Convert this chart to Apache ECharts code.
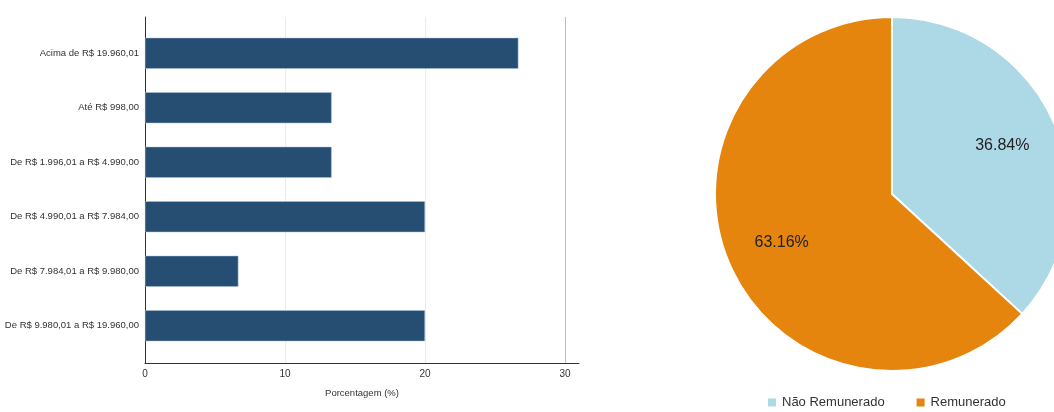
<!DOCTYPE html>
<html>
<head>
<meta charset="utf-8">
<script src="https://cdn.jsdelivr.net/npm/echarts@6/dist/echarts.min.js"></script>
<style>html,body{margin:0;padding:0;background:#fff}#c{width:1054px;height:412px}</style>
</head>
<body>
<div id="c"></div>
<script>
const categories = ['Acima de R$ 19.960,01', 'Até R$ 998,00', 'De R$ 1.996,01 a R$ 4.990,00', 'De R$ 4.990,01 a R$ 7.984,00', 'De R$ 7.984,01 a R$ 9.980,00', 'De R$ 9.980,01 a R$ 19.960,00'];
const percentages = [26.67, 13.33, 13.33, 20.00, 6.67, 20.00];
const xTicks = [0, 10, 20, 30];
const pieNames = ['Não Remunerado', 'Remunerado'];
const pieValues = [36.84, 63.16];
const xAxisName = 'Porcentagem (%)';

const chart = echarts.init(document.getElementById('c'), null, {renderer: 'canvas'});
const narrow = "'Liberation Sans Narrow', 'Arial Narrow', 'Liberation Sans', Arial, sans-serif";
const sans = "'Liberation Sans', Arial, sans-serif";
const pieData = pieNames.map((n, i) => ({name: n, value: pieValues[i]}));

chart.setOption({
  animation: false,
  backgroundColor: '#fff',
  grid: [
    {left: 145, top: 17, width: 434, height: 346, containLabel: false, outerBoundsMode: 'none'},
    {left: 145, top: 26, width: 434, height: 327, containLabel: false, outerBoundsMode: 'none'}
  ],
  xAxis: [
    {
      gridIndex: 0, type: 'value', min: 0, max: 31, interval: 10,
      name: xAxisName, nameLocation: 'middle', nameGap: 25,
      nameTextStyle: {fontFamily: narrow, fontSize: 9.5, color: '#333'},
      axisLine: {show: true, lineStyle: {color: '#333', width: 1}},
      axisTick: {show: false},
      axisLabel: {fontFamily: narrow, fontSize: 10, color: '#333', margin: 6,
        formatter: v => xTicks.indexOf(v) >= 0 ? String(v) : ''},
      splitLine: {show: true, lineStyle: {color: ['#ffffff', '#ececec', '#ececec', '#bdbdbd', 'rgba(0,0,0,0)'], width: 1}}
    },
    {gridIndex: 1, type: 'value', min: 0, max: 31, show: false}
  ],
  yAxis: [
    {
      gridIndex: 0, type: 'value', min: 0, max: 1,
      axisLine: {show: true, lineStyle: {color: '#333', width: 1}},
      axisTick: {show: false}, axisLabel: {show: false}, splitLine: {show: false}
    },
    {
      gridIndex: 1, type: 'category', data: categories, inverse: true,
      axisLine: {show: false}, axisTick: {show: false},
      axisLabel: {fontFamily: narrow, fontSize: 9.5, color: '#333', margin: 6}
    }
  ],
  legend: {
    data: pieNames, left: 761, top: 391, itemWidth: 10, itemHeight: 10, itemGap: 30,
    icon: 'rect',
    textStyle: {fontFamily: sans, fontSize: 13, color: '#333'}
  },
  series: [
    {
      type: 'bar', xAxisIndex: 1, yAxisIndex: 1, data: percentages,
      barWidth: 31,
      itemStyle: {color: '#254e72', borderColor: '#a9c3d8', borderWidth: 0.5}
    },
    {
      type: 'pie', center: [892, 194], radius: 177, startAngle: 90, clockwise: true,
      data: pieData,
      color: ['#add8e6', '#e5850e'],
      itemStyle: {borderColor: '#fff', borderWidth: 2},
      label: {show: false}, labelLine: {show: false}
    },
    {
      type: 'pie', center: [892, 194], radius: [58, 177], startAngle: 90, clockwise: true,
      data: pieData, silent: true,
      itemStyle: {color: 'rgba(0,0,0,0)', borderWidth: 0},
      label: {show: true, position: 'inner', formatter: p => p.value.toFixed(2) + '%',
        fontFamily: sans, fontSize: 16, color: '#222'},
      labelLine: {show: false}
    }
  ]
});
</script>
</body>
</html>
